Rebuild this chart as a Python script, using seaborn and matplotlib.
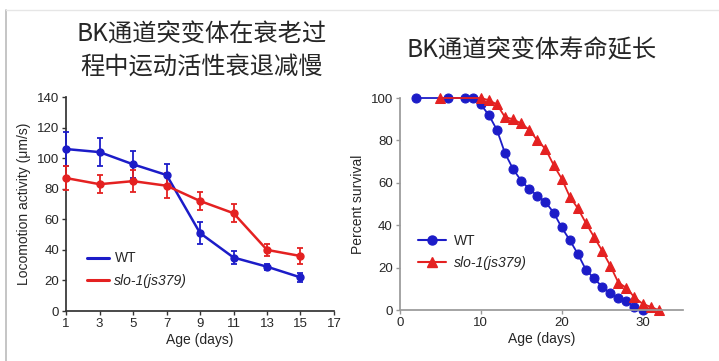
import numpy as np
import pandas as pd
import matplotlib
matplotlib.use("Agg")
import matplotlib.pyplot as plt
import seaborn as sns
from matplotlib.lines import Line2D

# --- Locomotion data (left panel) ---
loco_days = [1, 3, 5, 7, 9, 11, 13, 15]
loco_wt = [106, 104, 96, 89, 51, 35, 29, 22]
loco_wt_err = [11, 9, 9, 7, 7, 4, 2, 3]
loco_slo = [87, 83, 85, 82, 72, 64, 40, 36]
loco_slo_err = [8, 6, 7, 8, 6, 6, 4, 5]

# --- Survival data (right panel) ---
surv_wt_days = [2, 6, 8, 9, 10, 11, 12, 13, 14, 15, 16, 17, 18, 19, 20,
                21, 22, 23, 24, 25, 26, 27, 28, 29, 30]
surv_wt = [100, 100, 100, 100, 97, 92, 85, 74, 66.5, 61, 57, 54, 51, 46, 39,
           33, 26.5, 19, 15, 11, 8, 5.5, 4.5, 1.5, 0]
surv_slo_days = [5, 10, 11, 12, 13, 14, 15, 16, 17, 18, 19, 20, 21, 22, 23,
                 24, 25, 26, 27, 28, 29, 30, 31, 32]
surv_slo = [100, 100, 99, 97, 91, 90, 88, 85, 80, 76, 68.5, 62, 53.5, 48, 41,
            34.5, 28, 21, 13, 10.5, 6, 3, 1.5, 0]

labels = ["WT", "slo-1(js379)"]
blue = "#1c1cc8"
red = "#e42121"

sns.set_theme(style="ticks")
plt.rcParams['font.family'] = ['Liberation Sans', 'Noto Sans CJK SC', 'DejaVu Sans']

fig = plt.figure(figsize=(7.19, 3.61), dpi=100)
ax1 = fig.add_axes([0.092, 0.1385, 0.3725, 0.5925])
ax2 = fig.add_axes([0.556, 0.141, 0.394, 0.5875])

# --- Left: locomotion activity ---
for y, e, c in [(loco_wt, loco_wt_err, blue), (loco_slo, loco_slo_err, red)]:
    sns.lineplot(x=loco_days, y=y, ax=ax1, color=c, lw=1.8)
    ax1.errorbar(loco_days, y, yerr=e, fmt="o", color=c, ms=5, capsize=2.5,
                 elinewidth=1.3, capthick=1.3, clip_on=False, zorder=3)
ax1.set_xlim(1, 17)
ax1.set_ylim(0, 140)
ax1.set_xticks(range(1, 18, 2))
ax1.set_yticks(range(0, 141, 20))
ax1.set_xlabel("Age (days)", fontsize=10, labelpad=2)
ax1.set_ylabel("Locomotion activity (\u03bcm/s)", fontsize=10, labelpad=4)
h1 = [Line2D([], [], color=blue, lw=2.2), Line2D([], [], color=red, lw=2.2)]
leg1 = ax1.legend(h1, labels, loc="lower left", bbox_to_anchor=(0.03, 0.05),
                  frameon=False, fontsize=10, handlelength=1.6, handletextpad=0.4,
                  labelspacing=0.6)
leg1.get_texts()[1].set_style("italic")

# --- Right: survival curve ---
sns.lineplot(x=surv_wt_days, y=surv_wt, ax=ax2, color=blue, lw=1.3, marker="o",
             ms=6.5, mec=blue, clip_on=False)
sns.lineplot(x=surv_slo_days, y=surv_slo, ax=ax2, color=red, lw=1.3, marker="^",
             ms=6.5, mec=red, clip_on=False)
ax2.set_xlim(0, 35)
ax2.set_ylim(0, 100)
ax2.set_xticks([0, 10, 20, 30])
ax2.set_yticks(range(0, 101, 20))
ax2.set_xlabel("Age (days)", fontsize=10, labelpad=2)
ax2.set_ylabel("Percent survival", fontsize=10, labelpad=4)
h2 = [Line2D([], [], color=blue, lw=1.5, marker="o", ms=6.5),
      Line2D([], [], color=red, lw=1.5, marker="^", ms=6.5)]
leg2 = ax2.legend(h2, labels, loc="lower left", bbox_to_anchor=(0.02, 0.13),
                  frameon=False, fontsize=10, handlelength=2.0, handletextpad=0.6,
                  labelspacing=0.6)
leg2.get_texts()[1].set_style("italic")

for ax, sc in [(ax1, "#333333"), (ax2, "#999999")]:
    sns.despine(ax=ax)
    ax.spines["left"].set_color(sc)
    ax.spines["bottom"].set_color(sc)
    ax.tick_params(labelsize=9.5, length=3, width=1, color=sc, pad=2)

# --- Titles ---
fig.text(0.28, 0.86, "BK通道突变体在衰老过\n程中运动活性衰退减慢", ha="center",
         va="center", fontsize=17.5, linespacing=1.3,
         family=['Noto Sans CJK SC', 'DejaVu Sans'])
fig.text(0.74, 0.862, "BK通道突变体寿命延长", ha="center", va="center",
         fontsize=17.5, family=['Noto Sans CJK SC', 'DejaVu Sans'])

# --- Frame ---
fig.add_artist(Line2D([0.008, 0.008], [0, 0.972], color="#bbbbbb", lw=1.2))
fig.add_artist(Line2D([0.008, 1], [0.972, 0.972], color="#e6e6e6", lw=1))

fig.savefig("out.png", dpi=100)
